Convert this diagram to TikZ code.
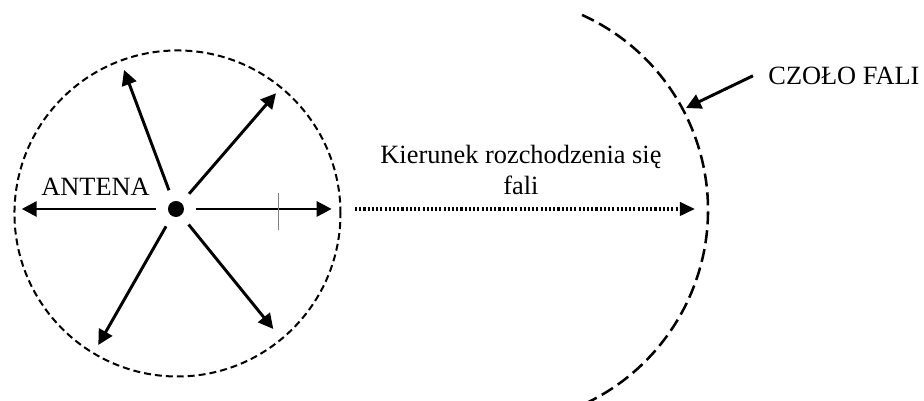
\documentclass[tikz,border=0pt]{standalone}
\usepackage{fontspec}
\setmainfont{Liberation Serif}
\usetikzlibrary{calc,positioning,arrows.meta}

\begin{document}
\begin{tikzpicture}[
  ray/.style={-{Triangle[length=0.25cm,width=0.25cm]},line width=1.4pt},
  lbl/.style={font=\fontsize{12.5}{15}\selectfont,inner sep=0pt},
  ]
\useasboundingbox (0,0) rectangle (15.4,6.683);
% zasieg anteny
\draw[line width=0.95pt,dash pattern=on 3.3pt off 1.9pt] (2.958,3.125) circle (2.717);
\node[circle,fill,minimum size=0.267cm,inner sep=0pt,outer sep=0.2cm] (ant) at (2.933,3.2) {};
\coordinate (l) at (0.362,3.2);
\coordinate (r) at (5.528,3.2);
\coordinate (ul) at (2.067,5.517);
\coordinate (ur) at (4.600,5.128);
\coordinate (dl) at (1.638,0.933);
\coordinate (dr) at (4.555,1.200);
\foreach \t in {l,r,ul,ur,dl,dr}
  \draw[ray] (ant) -- (\t);
\draw[gray,line width=0.3pt] (4.638,3.467) -- (4.638,2.85);
\node[lbl,anchor=base] (antena) at (1.592,3.422) {ANTENA};
% kierunek
\coordinate (d1) at (5.917,3.2);
\coordinate (d2) at (11.583,3.2);
\draw[-{Triangle[length=0.25cm,width=0.22cm]},line width=1.6pt,dash pattern=on 1pt off 1pt] (d1) -- (d2);
\node[lbl,anchor=base,align=center] (kier) at (8.683,3.433) {Kierunek rozchodzenia się\\fali};
% czolo fali
\draw[line width=1.2pt,dash pattern=on 6.2pt off 2.8pt] (8.233,3.183) ++(65.7:3.567) arc[start angle=65.7,end angle=-66,radius=3.567];
\coordinate (front) at (11.433,4.883);
\node[lbl,anchor=west,inner sep=0.25cm] (czolo) at (12.55,5.42) {CZOŁO FALI};
\draw[ray] (czolo.west) -- (front);
\end{tikzpicture}
\end{document}
